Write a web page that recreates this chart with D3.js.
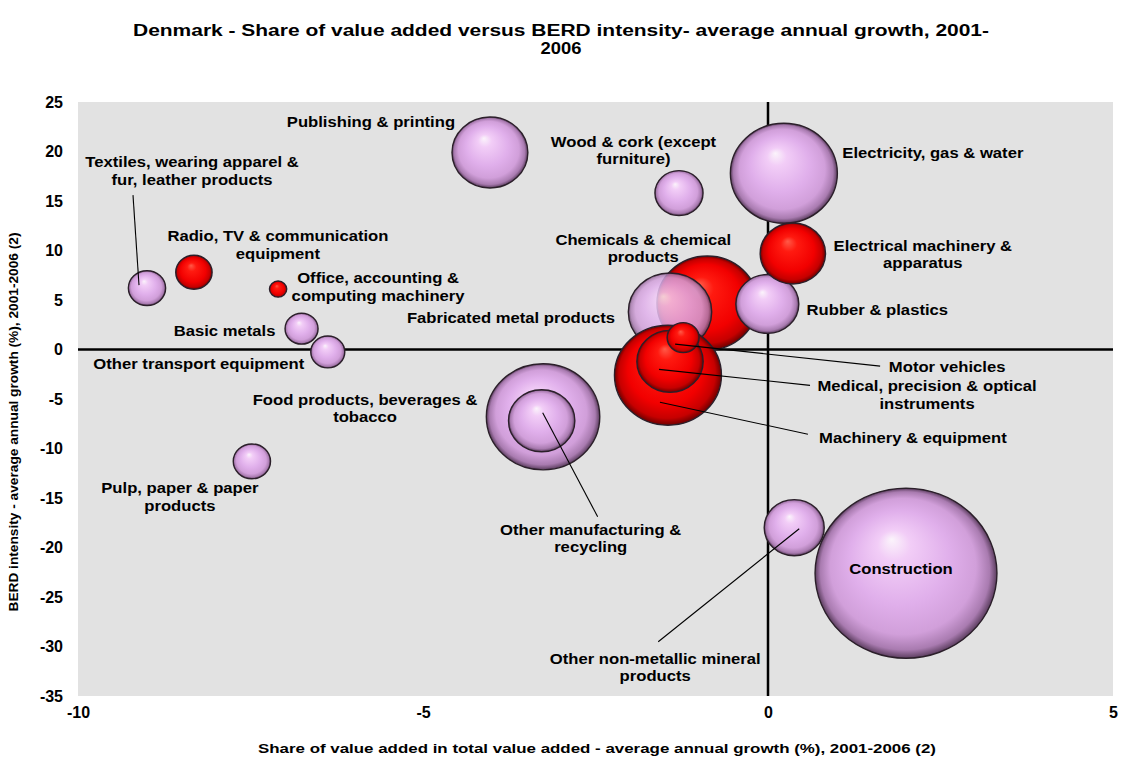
<!DOCTYPE html>
<html>
<head>
<meta charset="utf-8">
<script src="https://cdn.jsdelivr.net/npm/d3@7"></script>
<style>
  body { margin: 0; background: #fff; }
  svg { display: block; font-family: "Liberation Sans", Arial, sans-serif; font-weight: bold; }
</style>
</head>
<body>
<svg id="chart" width="1121" height="762"></svg>
<script>
// Industries, listed in drawing order (later bubbles sit on top of earlier ones)
const industries = [
  "Construction",
  "Food products, beverages & tobacco",
  "Other manufacturing & recycling",
  "Electricity, gas & water",
  "Chemicals & chemical products",
  "Fabricated metal products",
  "Machinery & equipment",
  "Medical, precision & optical instruments",
  "Motor vehicles",
  "Rubber & plastics",
  "Electrical machinery & apparatus",
  "Publishing & printing",
  "Wood & cork (except furniture)",
  "Other non-metallic mineral products",
  "Textiles, wearing apparel & fur, leather products",
  "Radio, TV & communication equipment",
  "Office, accounting & computing machinery",
  "Basic metals",
  "Other transport equipment",
  "Pulp, paper & paper products"
];

// Share of value added in total value added - average annual growth (%), 2001-2006
const valueAddedGrowth = [2.0, -3.26, -3.28, 0.23, -0.88, -1.42, -1.45, -1.42, -1.23, -0.01,
                          0.36, -4.03, -1.29, 0.38, -9.0, -8.32, -7.10, -6.76, -6.38, -7.48];

// BERD intensity - average annual growth (%), 2001-2006
const berdGrowth = [-22.6, -6.8, -7.2, 17.8, 4.7, 3.8, -2.6, -1.2, 1.2, 4.6,
                    9.7, 19.9, 15.8, -18.0, 6.2, 7.8, 6.1, 2.1, -0.25, -11.3];

// Relative bubble size (area)
const bubbleSize = [100, 38.9, 13.3, 34.6, 30.6, 21.0, 34.6, 13.3, 3.1, 12.0,
                    12.9, 17.4, 7.0, 10.9, 4.2, 4.0, 0.9, 3.3, 3.5, 4.2];

// R&D-intensive industries are shown in red
const rdIntensive = [false, false, false, false, true, false, true, true, true, false,
                     true, false, false, false, false, true, true, false, false, false];

const xTicks = [-10, -5, 0, 5];
const yTicks = [25, 20, 15, 10, 5, 0, -5, -10, -15, -20, -25, -30, -35];

// Label placement: offset of the first text line from the bubble centre (px),
// optional leader line [x1, y1, x2, y2] relative to the bubble centre.
const labelLayout = {
  "Construction": { lines: ["Construction"], dx: -5, dy: -4 },
  "Food products, beverages & tobacco": { lines: ["Food products, beverages &", "tobacco"], dx: -178, dy: -17 },
  "Other manufacturing & recycling": { lines: ["Other manufacturing &", "recycling"], dx: 49, dy: 109, leader: [1, -8, 56, 96] },
  "Electricity, gas & water": { lines: ["Electricity, gas & water"], dx: 149, dy: -20 },
  "Chemicals & chemical products": { lines: ["Chemicals & chemical", "products"], dx: -64, dy: -63 },
  "Fabricated metal products": { lines: ["Fabricated metal products"], dx: -55, dy: 6, anchor: "end" },
  "Machinery & equipment": { lines: ["Machinery & equipment"], dx: 245, dy: 63, leader: [-8, 27, 140, 59] },
  "Medical, precision & optical instruments": { lines: ["Medical, precision & optical", "instruments"], dx: 257, dy: 25, leader: [-11, 8, 140, 24] },
  "Motor vehicles": { lines: ["Motor vehicles"], dx: 264, dy: 29, leader: [-8, 6.5, 197, 28.5] },
  "Rubber & plastics": { lines: ["Rubber & plastics"], dx: 110, dy: 6 },
  "Electrical machinery & apparatus": { lines: ["Electrical machinery &", "apparatus"], dx: 130, dy: -7.5 },
  "Publishing & printing": { lines: ["Publishing & printing"], dx: -119, dy: -30 },
  "Wood & cork (except furniture)": { lines: ["Wood & cork (except", "furniture)"], dx: -45.5, dy: -51 },
  "Other non-metallic mineral products": { lines: ["Other non-metallic mineral", "products"], dx: -139, dy: 131, leader: [5, 1, -136, 114] },
  "Textiles, wearing apparel & fur, leather products": { lines: ["Textiles, wearing apparel &", "fur, leather products"], dx: 45, dy: -126, leader: [-8, -3, -14, -93] },
  "Radio, TV & communication equipment": { lines: ["Radio, TV & communication", "equipment"], dx: 84, dy: -36 },
  "Office, accounting & computing machinery": { lines: ["Office, accounting &", "computing machinery"], dx: 100, dy: -11 },
  "Basic metals": { lines: ["Basic metals"], dx: -77, dy: 2 },
  "Other transport equipment": { lines: ["Other transport equipment"], dx: -129, dy: 12 },
  "Pulp, paper & paper products": { lines: ["Pulp, paper & paper", "products"], dx: -72, dy: 27 }
};
const bubbleOpacity = { "Fabricated metal products": 0.84 };

const data = industries.map((name, i) => ({
  name, x: valueAddedGrowth[i], y: berdGrowth[i], size: bubbleSize[i], rd: rdIntensive[i]
}));

const svg = d3.select("#chart");
const plot = { left: 78, right: 1113, top: 102, bottom: 696 };

const x = d3.scaleLinear().domain([-10, 5]).range([plot.left, plot.right]);
const y = d3.scaleLinear().domain([-35, 25]).range([plot.bottom, plot.top]);
const r = d3.scaleSqrt().domain([0, 100]).range([0, 85]);
const aspect = 1.07; // bubbles are drawn slightly wider than tall
const textStretch = 1.19;

// Gradients for the shaded bubbles
const defs = svg.append("defs");
function ball(id, stops) {
  const g = defs.append("radialGradient").attr("id", id)
    .attr("cx", 0.5).attr("cy", 0.5).attr("r", 0.5).attr("fx", 0.42).attr("fy", 0.3);
  stops.forEach(([o, c]) => g.append("stop").attr("offset", o).attr("stop-color", c));
}
ball("lilac", [[0, "#fbf4fb"], [0.18, "#f2cdf7"], [0.55, "#e0afeb"], [0.8, "#d19fda"], [0.93, "#a97bb0"], [1, "#5b3d5e"]]);
ball("red", [[0, "#ff5a48"], [0.25, "#ff1a10"], [0.7, "#f20000"], [0.9, "#c60000"], [1, "#6e0000"]]);

// Plot background
svg.append("rect")
  .attr("x", plot.left).attr("y", plot.top)
  .attr("width", plot.right - plot.left).attr("height", plot.bottom - plot.top)
  .attr("fill", "#e2e2e2");

// Zero lines
svg.append("line")
  .attr("x1", plot.left).attr("x2", plot.right).attr("y1", y(0)).attr("y2", y(0))
  .attr("stroke", "#000").attr("stroke-width", 2.5);
svg.append("line")
  .attr("x1", x(0)).attr("x2", x(0)).attr("y1", plot.top).attr("y2", plot.bottom)
  .attr("stroke", "#000").attr("stroke-width", 2.5);

// Axes (labels only)
const tickFmt = d => String(d);
const yAxis = svg.append("g").attr("transform", `translate(${plot.left},0)`)
  .call(d3.axisLeft(y).tickValues(yTicks).tickSize(0).tickPadding(15).tickFormat(tickFmt));
const xAxis = svg.append("g").attr("transform", `translate(0,${plot.bottom})`)
  .call(d3.axisBottom(x).tickValues(xTicks).tickSize(0).tickPadding(11).tickFormat(tickFmt));
[yAxis, xAxis].forEach(a => {
  a.select(".domain").remove();
  a.selectAll("text").attr("font-size", 16).attr("font-weight", "bold")
    .attr("font-family", "'Liberation Sans', Arial, sans-serif").attr("fill", "#000");
});

// Bubbles
svg.append("g").selectAll("ellipse").data(data).join("ellipse")
  .attr("cx", d => x(d.x)).attr("cy", d => y(d.y))
  .attr("rx", d => r(d.size) * aspect).attr("ry", d => r(d.size))
  .attr("fill", d => d.rd ? "url(#red)" : "url(#lilac)")
  .attr("fill-opacity", d => bubbleOpacity[d.name] || 1)
  .attr("stroke", "#2b1f2a").attr("stroke-width", 1.4);

// Leader lines
svg.append("g").selectAll("line").data(data.filter(d => labelLayout[d.name].leader)).join("line")
  .attr("x1", d => x(d.x) + labelLayout[d.name].leader[0])
  .attr("y1", d => y(d.y) + labelLayout[d.name].leader[1])
  .attr("x2", d => x(d.x) + labelLayout[d.name].leader[2])
  .attr("y2", d => y(d.y) + labelLayout[d.name].leader[3])
  .attr("stroke", "#000").attr("stroke-width", 1.1);

// Bubble labels
const labels = svg.append("g").selectAll("g").data(data).join("g")
  .attr("transform", d => {
    const L = labelLayout[d.name];
    return `translate(${x(d.x) + L.dx},${y(d.y) + L.dy}) scale(${textStretch},1)`;
  });
labels.each(function (d) {
  const L = labelLayout[d.name];
  const t = d3.select(this).append("text")
    .attr("text-anchor", L.anchor || "middle").attr("font-size", 14).attr("fill", "#000");
  L.lines.forEach((line, i) => {
    t.append("tspan").attr("x", 0).attr("y", i * 17.5).attr("dy", "0.35em").text(line);
  });
});

// Chart title (two lines)
svg.append("text").attr("x", 561).attr("y", 30).attr("dy", "0.35em")
  .attr("text-anchor", "middle").attr("font-size", 16).attr("fill", "#000")
  .attr("textLength", 856).attr("lengthAdjust", "spacingAndGlyphs")
  .text("Denmark - Share of value added versus BERD intensity- average annual growth, 2001-");
svg.append("text").attr("x", 561).attr("y", 48).attr("dy", "0.35em")
  .attr("text-anchor", "middle").attr("font-size", 16).attr("fill", "#000")
  .attr("transform", `translate(561,0) scale(1.15,1) translate(-561,0)`)
  .text("2006");

// Axis titles
svg.append("text")
  .attr("x", 597).attr("y", 748).attr("dy", "0.35em")
  .attr("text-anchor", "middle").attr("font-size", 13)
  .attr("textLength", 678).attr("lengthAdjust", "spacingAndGlyphs")
  .text("Share of value added in total value added - average annual growth (%), 2001-2006 (2)");

svg.append("text")
  .attr("transform", "translate(13,422) rotate(-90)").attr("dy", "0.35em")
  .attr("text-anchor", "middle").attr("font-size", 13)
  .attr("textLength", 379).attr("lengthAdjust", "spacingAndGlyphs")
  .text("BERD intensity - average annual growth (%), 2001-2006 (2)");
</script>
</body>
</html>
